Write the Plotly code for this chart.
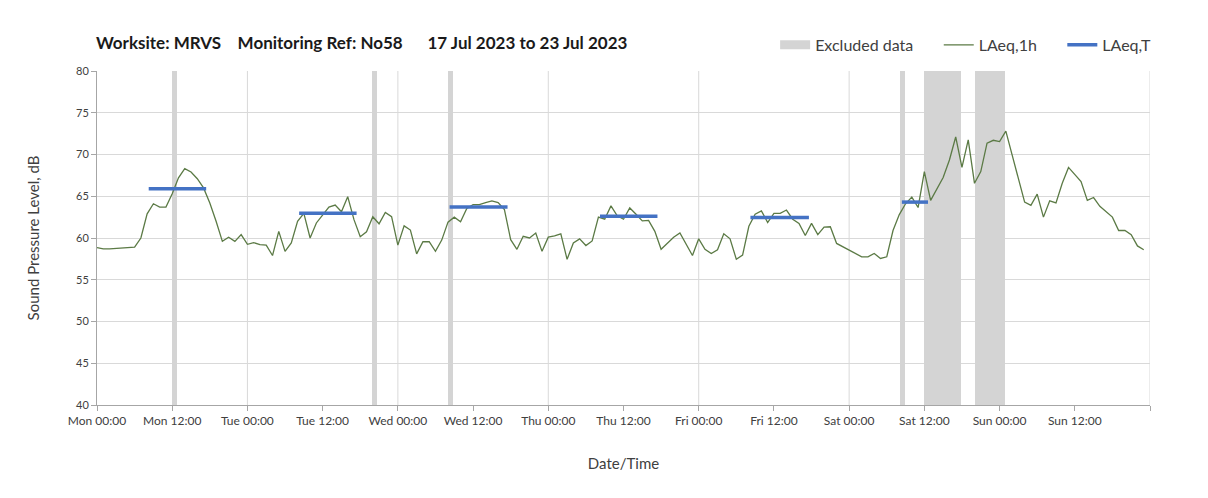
import pandas as pd
import plotly.graph_objects as go

# hourly LAeq,1h readings, Mon 17 Jul 2023 00:00 onwards
laeq_1h = [
    58.85, 58.7, 58.7, 58.75, 58.8, 58.9, 58.9, 60.0, 62.9, 64.1, 63.7, 63.7,
    65.3, 67.2, 68.3, 67.9, 67.1, 66.0, 64.2, 62.0, 59.6, 60.1, 59.6, 60.4,
    59.25, 59.45, 59.2, 59.15, 57.9, 60.8, 58.4, 59.4, 62.0, 62.95, 60.0, 61.8,
    62.8, 63.7, 63.95, 63.15, 64.95, 62.2, 60.15, 60.75, 62.55, 61.7, 63.05, 62.55,
    59.15, 61.45, 60.95, 58.1, 59.55, 59.55, 58.4, 59.75, 61.9, 62.5, 61.95, 63.55,
    64.0, 64.0, 64.25, 64.45, 64.25, 63.4, 59.8, 58.65, 60.2, 60.0, 60.6, 58.4,
    60.1, 60.25, 60.5, 57.45, 59.4, 59.9, 59.1, 59.65, 62.5, 62.25, 63.85, 62.65,
    62.25, 63.6, 62.85, 62.05, 62.1, 60.8, 58.65, 59.4, 60.1, 60.6, 59.2, 57.9,
    59.9, 58.65, 58.15, 58.6, 60.5, 59.9, 57.45, 57.95, 61.4, 62.85, 63.25, 61.85,
    62.95, 62.95, 63.35, 62.25, 61.75, 60.3, 61.75, 60.4, 61.3, 61.35, 59.35, 58.95,
    58.55, 58.25, 57.75, 57.75, 58.15, 57.55, 57.75, 60.9, 62.8, 64.1, 64.9, 63.65,
    67.95, 64.5, 65.95, 67.25, 69.35, 72.1, 68.45, 71.75, 66.55, 67.95, 71.35, 71.7,
    71.55, 72.8, 69.95, 67.0, 64.3, 63.9, 65.25, 62.5, 64.45, 64.2, 66.55, 68.45,
    67.55, 66.75, 64.5, 64.85, 63.8, 63.1, 62.5, 60.9, 60.9, 60.4, 59.05, 58.6,
]

# LAeq,T daytime periods
laeq_t_start = ['2023-07-17 08:15', '2023-07-18 08:15', '2023-07-19 08:15',
                '2023-07-20 08:15', '2023-07-21 08:15', '2023-07-22 08:25']
laeq_t_end = ['2023-07-17 17:25', '2023-07-18 17:25', '2023-07-19 17:30',
              '2023-07-20 17:25', '2023-07-21 17:35', '2023-07-22 12:35']
laeq_t = [65.9, 62.95, 63.7, 62.6, 62.45, 64.3]

# excluded periods
excl_start = ['2023-07-17 11:55', '2023-07-18 19:55', '2023-07-19 08:00',
              '2023-07-22 08:05', '2023-07-22 11:55', '2023-07-22 20:00']
excl_end = ['2023-07-17 12:50', '2023-07-18 20:40', '2023-07-19 08:50',
            '2023-07-22 08:55', '2023-07-22 17:55', '2023-07-23 00:55']

t0 = pd.Timestamp('2023-07-17 00:00')
t1 = pd.Timestamp('2023-07-24 00:00')
hours = pd.date_range(t0, periods=len(laeq_1h), freq='h')

FONT = 'Lato'
GREY = '#d4d4d4'
NB = '\u00a0'

fig = go.Figure()

# excluded data as full height bars
s = pd.to_datetime(excl_start)
e = pd.to_datetime(excl_end)
centers = s + (e - s) / 2
widths = [(b - a).total_seconds() * 1000 for a, b in zip(s, e)]
fig.add_trace(go.Bar(
    x=centers, y=[40] * len(centers), base=40, width=widths,
    marker=dict(color=GREY, line=dict(width=0)),
    showlegend=False, hoverinfo='skip'
))
# legend entry for the bands (wide grey block)
fig.add_trace(go.Scatter(
    x=[None], y=[None], mode='lines', name='Excluded data' + NB * 5,
    line=dict(color=GREY, width=9)
))

fig.add_trace(go.Scatter(
    x=hours, y=laeq_1h, mode='lines', name='LAeq,1h' + NB * 5,
    line=dict(color='#5b7a45', width=1.3)
))

xs, ys = [], []
for a, b, v in zip(laeq_t_start, laeq_t_end, laeq_t):
    xs += [pd.Timestamp(a), pd.Timestamp(b), None]
    ys += [v, v, None]
fig.add_trace(go.Scatter(
    x=xs, y=ys, mode='lines', name='LAeq,T',
    line=dict(color='#4472c4', width=3.5)
))

# daily vertical grid lines
for d in pd.date_range(t0 + pd.Timedelta(days=1), t1, freq='D'):
    fig.add_shape(type='line', xref='x', yref='paper', x0=d, x1=d, y0=0, y1=1,
                  line=dict(color='#d9d9d9', width=1), layer='below')

tickvals = pd.date_range(t0, t1, freq='12h')
ticktext = [t.strftime('%a %H:%M') for t in tickvals]
ticktext[-1] = ''

fig.update_layout(
    width=1208, height=498,
    margin=dict(l=89, r=66, t=63, b=101),
    paper_bgcolor='white', plot_bgcolor='white',
    font=dict(family=FONT, color='#404040'),
    showlegend=True,
    legend=dict(orientation='h', x=0.644, y=1.078, xanchor='left', yanchor='middle',
                font=dict(size=16, color='#404040'), itemwidth=30,
                traceorder='normal', bgcolor='rgba(0,0,0,0)'),
    xaxis=dict(
        type='date', range=[t0, t1],
        tickvals=tickvals, ticktext=ticktext,
        ticks='outside', ticklen=5, tickcolor='#a6a6a6',
        showgrid=False, showline=True, linecolor='#a6a6a6', linewidth=1,
        tickfont=dict(size=12, color='#404040'),
        title=dict(text='Date/Time', font=dict(size=15, color='#404040'), standoff=31),
        automargin=False, zeroline=False
    ),
    yaxis=dict(
        range=[40, 80], dtick=5,
        ticks='outside', ticklen=5, tickcolor='#a6a6a6',
        showgrid=True, gridcolor='#d9d9d9', gridwidth=1,
        showline=True, linecolor='#a6a6a6', linewidth=1,
        tickfont=dict(size=11, color='#404040'),
        title=dict(text='Sound Pressure Level, dB', font=dict(size=15, color='#404040'), standoff=32),
        automargin=False, zeroline=False
    ),
    bargap=0
)

fig.add_annotation(
    xref='paper', yref='paper', x=-0.003, y=1.084, xanchor='left', yanchor='middle',
    text='<b>Worksite: MRVS' + NB * 4 + 'Monitoring Ref: No58' + NB * 6 + '17 Jul 2023 to 23 Jul 2023</b>',
    showarrow=False, font=dict(size=17, color='#1a1a1a')
)

fig.write_html('out.html')
